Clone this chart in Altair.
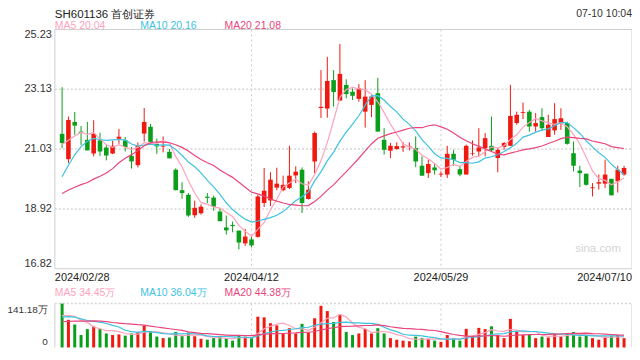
import altair as alt
import pandas as pd

title_text = "SH601136 首创证券"
stamp_text = "07-10 10:04"
x_labels = ["2024/02/28", "2024/04/12", "2024/05/29", "2024/07/10"]
grid_idx = [30, 60]
price_ticks = [25.23, 23.13, 21.03, 18.92, 16.82]
vol_max = 141.18
vol_tick_labels = ["141.18万", "0"]
price_ma_labels = ["MA5 20.04", "MA10 20.16", "MA20 21.08"]
vol_ma_labels = ["MA5 34.45万", "MA10 36.04万", "MA20 44.38万"]

opens = [21.56, 20.67, 21.98, 21.64, 21.35, 20.87, 21.33, 21.08, 20.87, 21.39,
         21.33, 20.79, 20.46, 21.57, 21.81, 21.21, 21.10, 20.93, 20.30, 19.58,
         19.42, 18.70, 18.77, 19.35, 19.32, 18.83, 18.27, 18.36, 18.16, 17.71,
         17.85, 17.94, 19.13, 19.22, 19.67, 19.58, 19.66, 20.10, 20.30, 19.27,
         20.59, 22.47, 22.45, 23.45, 22.73, 23.28, 23.04, 22.79, 22.34, 22.58,
         22.99, 21.35, 20.97, 21.03, 21.08, 21.10, 21.06, 20.44, 20.18, 20.38,
         20.13, 20.13, 20.86, 20.32, 20.13, 20.86, 20.94, 21.06, 21.14, 20.71,
         21.10, 21.14, 21.94, 22.30, 22.34, 21.82, 22.15, 21.45, 21.68, 21.94,
         21.94, 20.88, 20.27, 20.16, 19.65, 19.81, 19.81, 19.98, 19.89, 20.13]
highs = [23.20, 22.17, 22.33, 21.84, 21.98, 22.04, 21.60, 21.17, 21.32, 21.73,
         21.45, 21.10, 21.26, 22.47, 21.91, 21.39, 21.47, 21.03, 20.35, 19.86,
         19.48, 19.21, 19.08, 19.48, 19.39, 18.93, 18.69, 18.48, 18.16, 18.22,
         17.99, 19.42, 20.36, 20.21, 20.37, 20.09, 21.14, 20.42, 20.38, 19.89,
         21.64, 23.80, 24.27, 23.80, 24.72, 23.48, 23.16, 23.31, 23.45, 22.93,
         23.53, 21.76, 21.24, 21.26, 21.27, 21.26, 21.47, 20.77, 20.65, 20.53,
         20.24, 21.14, 21.00, 20.44, 21.18, 21.33, 21.76, 21.59, 22.17, 21.06,
         21.27, 23.28, 22.34, 22.66, 22.40, 22.29, 22.46, 22.23, 22.64, 22.46,
         21.99, 21.29, 20.44, 20.16, 19.83, 20.13, 20.65, 19.98, 20.44, 20.44]
lows = [21.06, 20.53, 21.53, 21.17, 20.98, 20.77, 20.78, 20.63, 20.85, 21.21,
        20.94, 20.34, 20.38, 21.29, 21.24, 20.86, 20.91, 20.70, 19.58, 19.28,
        18.64, 18.61, 18.72, 19.13, 18.86, 18.49, 18.02, 18.10, 17.50, 17.62,
        17.57, 17.91, 18.99, 19.02, 19.58, 19.54, 19.62, 19.83, 18.78, 19.25,
        20.18, 22.12, 22.13, 22.52, 22.73, 22.81, 22.75, 22.69, 21.78, 22.15,
        21.64, 20.83, 20.71, 21.00, 20.93, 20.98, 20.39, 20.09, 20.01, 20.13,
        20.04, 20.01, 20.44, 20.07, 20.13, 20.79, 20.77, 20.77, 20.94, 20.21,
        21.00, 21.14, 21.88, 22.08, 21.64, 21.64, 21.68, 21.45, 21.53, 21.70,
        21.18, 20.24, 19.69, 19.74, 19.36, 19.60, 19.66, 19.40, 19.50, 20.09]
closes = [21.24, 22.05, 21.85, 21.60, 20.98, 21.56, 20.94, 20.80, 21.14, 21.46,
          21.10, 20.59, 21.14, 21.98, 21.28, 21.12, 21.12, 20.70, 19.58, 19.48,
          18.69, 18.96, 19.00, 19.31, 19.00, 18.49, 18.17, 18.32, 17.74, 17.95,
          17.64, 19.36, 19.56, 19.95, 19.81, 19.77, 20.09, 20.23, 19.13, 19.60,
          21.59, 22.51, 23.42, 23.03, 23.67, 22.96, 22.90, 23.16, 22.87, 22.87,
          21.64, 21.00, 21.14, 21.13, 21.12, 21.12, 20.59, 20.09, 20.50, 20.28,
          20.16, 20.86, 20.65, 20.13, 21.14, 20.88, 21.08, 21.41, 20.98, 21.00,
          21.24, 22.19, 22.23, 22.33, 21.82, 21.94, 21.76, 21.88, 22.08, 22.11,
          21.21, 20.44, 20.18, 19.77, 19.68, 19.86, 20.13, 19.40, 20.30, 20.36]
# trading volume, 10k shares (万)
vols = [141.18, 89, 74, 40, 59, 68, 60, 45, 40, 42,
        38, 45, 50, 70, 52, 35, 30, 32, 50, 38,
        48, 36, 28, 25, 30, 35, 30, 22, 40, 35,
        30, 99, 97, 78, 71, 45, 62, 45, 76, 48,
        94, 134, 117, 82, 106, 50, 40, 45, 60, 45,
        62, 45, 30, 25, 22, 20, 35, 30, 28, 22,
        18, 40, 30, 22, 60, 35, 63, 59, 68, 40,
        30, 92, 50, 40, 42, 30, 35, 32, 45, 35,
        45, 50, 35, 38, 30, 25, 35, 38, 40, 30]
# sessions before the first visible candle (only feed the moving averages)
pre_closes = [19.6, 19.9, 19.7, 19.5, 19.2, 18.9, 18.6, 18.0, 17.3, 18.0,
              18.0, 18.2, 18.7, 19.1, 20.6, 21.3, 21.1, 21.0, 21.3]
pre_vols = [60, 55, 50, 52, 58, 70, 85, 95, 80, 75,
            70, 90, 100, 110, 95, 85, 90, 100, 95]

n = len(closes)
df = pd.DataFrame({"i": list(range(n)), "open": opens, "high": highs,
                   "low": lows, "close": closes, "vol": vols})
df["dir"] = ["up" if c >= o else "down" for o, c in zip(opens, closes)]
allc = pd.Series(pre_closes + closes)
allv = pd.Series(pre_vols + vols)
k = len(pre_closes)
for w in (5, 10, 20):
    df[f"ma{w}"] = allc.rolling(w).mean().iloc[k:].values
    df[f"vma{w}"] = allv.rolling(w).mean().iloc[k:].values

W = 579
PH = 240
VT, VB = 275, 319
H = VB

RED = "#F0190F"
GREEN = "#0B9E1B"
C5, C10, C20 = "#FFA2BD", "#3CC3E0", "#E9457C"
FONT = "Arial, 'Liberation Sans', sans-serif"
GRID = "#d6d6d6"

xs = alt.Scale(domain=[-0.36, 89.47], nice=False, zero=False)


def X(f="i"):
    return alt.X(f, type="quantitative", scale=xs, axis=None)


def PY(f):
    return alt.Y(f, type="quantitative",
                 scale=alt.Scale(domain=[price_ticks[-1], price_ticks[0]], range=[PH, 0], nice=False, zero=False),
                 axis=None)


def VY(f):
    return alt.Y(f, type="quantitative",
                 scale=alt.Scale(domain=[0, vol_max], range=[VB, VT], nice=False, zero=False),
                 axis=None)


col = alt.Color("dir:N", scale=alt.Scale(domain=["up", "down"], range=[RED, GREEN]), legend=None)
base = alt.Chart(df)
one = pd.DataFrame({"a": [0]})

layers = []

# panel frames
layers.append(alt.Chart(one).mark_rect(fillOpacity=0, stroke="#cfcfcf", strokeWidth=1).encode(
    x=alt.value(0), x2=alt.value(W), y=alt.value(0), y2=alt.value(PH)))
layers.append(alt.Chart(one).mark_rule(color="#cfcfcf", strokeWidth=1).encode(
    x=alt.value(0), y=alt.value(VT), y2=alt.value(VB)))
layers.append(alt.Chart(one).mark_rule(color="#cfcfcf", strokeWidth=1).encode(
    x=alt.value(W), y=alt.value(VT), y2=alt.value(VB)))
layers.append(alt.Chart(one).mark_rule(color=GRID, strokeWidth=1.5, strokeDash=[2, 2]).encode(
    x=alt.value(0), x2=alt.value(W), y=alt.value(VT)))

# horizontal price grid
gdf = pd.DataFrame({"p": price_ticks[1:-1]})
layers.append(alt.Chart(gdf).mark_rule(color=GRID, strokeWidth=1.5, strokeDash=[2, 2]).encode(
    x=alt.value(0), x2=alt.value(W), y=PY("p")))

# vertical date grid (both panels)
vdf = pd.DataFrame({"i": grid_idx})
layers.append(alt.Chart(vdf).mark_rule(color="#cccccc", strokeWidth=1, strokeDash=[2, 3]).encode(
    x=X(), y=alt.value(0), y2=alt.value(PH)))
layers.append(alt.Chart(vdf).mark_rule(color="#cccccc", strokeWidth=1, strokeDash=[2, 3]).encode(
    x=X(), y=alt.value(VT), y2=alt.value(VB)))

# watermark
layers.append(alt.Chart(pd.DataFrame({"t": ["sina.com"]})).mark_text(
    align="right", baseline="middle", fontSize=11.5, font=FONT, color="#d4d4d4").encode(
    x=alt.value(W - 11), y=alt.value(PH - 20), text="t:N"))

# candles
layers.append(base.mark_rule(strokeWidth=1).encode(x=X(), y=PY("low"), y2="high", color=col))
layers.append(base.mark_bar(size=4.6).encode(x=X(), y=PY("open"), y2="close", color=col))

# price moving averages
for f, c in (("ma5", C5), ("ma10", C10), ("ma20", C20)):
    layers.append(base.mark_line(color=c, strokeWidth=1.2).encode(x=X(), y=PY(f)))

# volume
layers.append(base.mark_bar(size=3).encode(x=X(), y=VY("vol"), y2=alt.Y2(datum=0), color=col))
for f, c in (("vma5", C5), ("vma10", C10), ("vma20", C20)):
    layers.append(base.mark_line(color=c, strokeWidth=1.2).encode(x=X(), y=VY(f)))

# y tick labels (price)
lab = dict(font=FONT, fontSize=11, color="#333333", align="right")
layers.append(alt.Chart(pd.DataFrame({"p": price_ticks[:1]})).mark_text(baseline="top", **lab).encode(
    x=alt.value(-3), y=PY("p"), text=alt.Text("p:Q", format=".2f")))
layers.append(alt.Chart(pd.DataFrame({"p": price_ticks[1:-1]})).mark_text(baseline="middle", **lab).encode(
    x=alt.value(-3), y=PY("p"), text=alt.Text("p:Q", format=".2f")))
layers.append(alt.Chart(pd.DataFrame({"p": price_ticks[-1:]})).mark_text(baseline="bottom", **lab).encode(
    x=alt.value(-3), y=PY("p"), text=alt.Text("p:Q", format=".2f")))

# y tick labels (volume)
vlab = dict(font=FONT, fontSize=10, color="#333333", align="right")
layers.append(alt.Chart(pd.DataFrame({"t": vol_tick_labels[:1]})).mark_text(baseline="top", **vlab).encode(
    x=alt.value(-7), y=alt.value(VT + 1), text="t:N"))
layers.append(alt.Chart(pd.DataFrame({"t": vol_tick_labels[1:]})).mark_text(baseline="bottom", **vlab).encode(
    x=alt.value(-7), y=alt.value(VB), text="t:N"))

# x labels
xl = dict(font=FONT, fontSize=11, color="#222222", baseline="middle")
layers.append(alt.Chart(pd.DataFrame({"t": x_labels[:1]})).mark_text(align="left", **xl).encode(
    x=alt.value(0), y=alt.value(PH + 9), text="t:N"))
layers.append(alt.Chart(pd.DataFrame({"t": x_labels[1:3], "i": grid_idx})).mark_text(align="center", **xl).encode(
    x=X(), y=alt.value(PH + 9), text="t:N"))
layers.append(alt.Chart(pd.DataFrame({"t": x_labels[3:]})).mark_text(align="right", **xl).encode(
    x=alt.value(W), y=alt.value(PH + 9), text="t:N"))

# header
layers.append(alt.Chart(pd.DataFrame({"t": [title_text]})).mark_text(
    align="left", baseline="top", fontSize=11.5, font=FONT, color="#222222").encode(
    x=alt.value(0), y=alt.value(-21), text="t:N"))
layers.append(alt.Chart(pd.DataFrame({"t": [stamp_text]})).mark_text(
    align="right", baseline="top", fontSize=10.5, font=FONT, color="#333333").encode(
    x=alt.value(W), y=alt.value(-21), text="t:N"))

# MA legends
leg_x = [0, 85.7, 170.3]
for labels, yy in ((price_ma_labels, -3.5), (vol_ma_labels, VT - 10.5)):
    for t, c, xx in zip(labels, (C5, C10, C20), leg_x):
        layers.append(alt.Chart(pd.DataFrame({"t": [t]})).mark_text(
            align="left", baseline="middle", fontSize=10.5, font=FONT, color=c).encode(
            x=alt.value(xx), y=alt.value(yy), text="t:N"))

chart = alt.layer(*layers).resolve_scale(y="independent").properties(
    width=W, height=H,
    autosize=alt.AutoSizeParams(type="none"),
    padding={"left": 47, "top": 21, "right": 0, "bottom": 0},
).configure_view(stroke=None)

chart.save("out.html", embed_options={"renderer": "svg", "actions": False})
